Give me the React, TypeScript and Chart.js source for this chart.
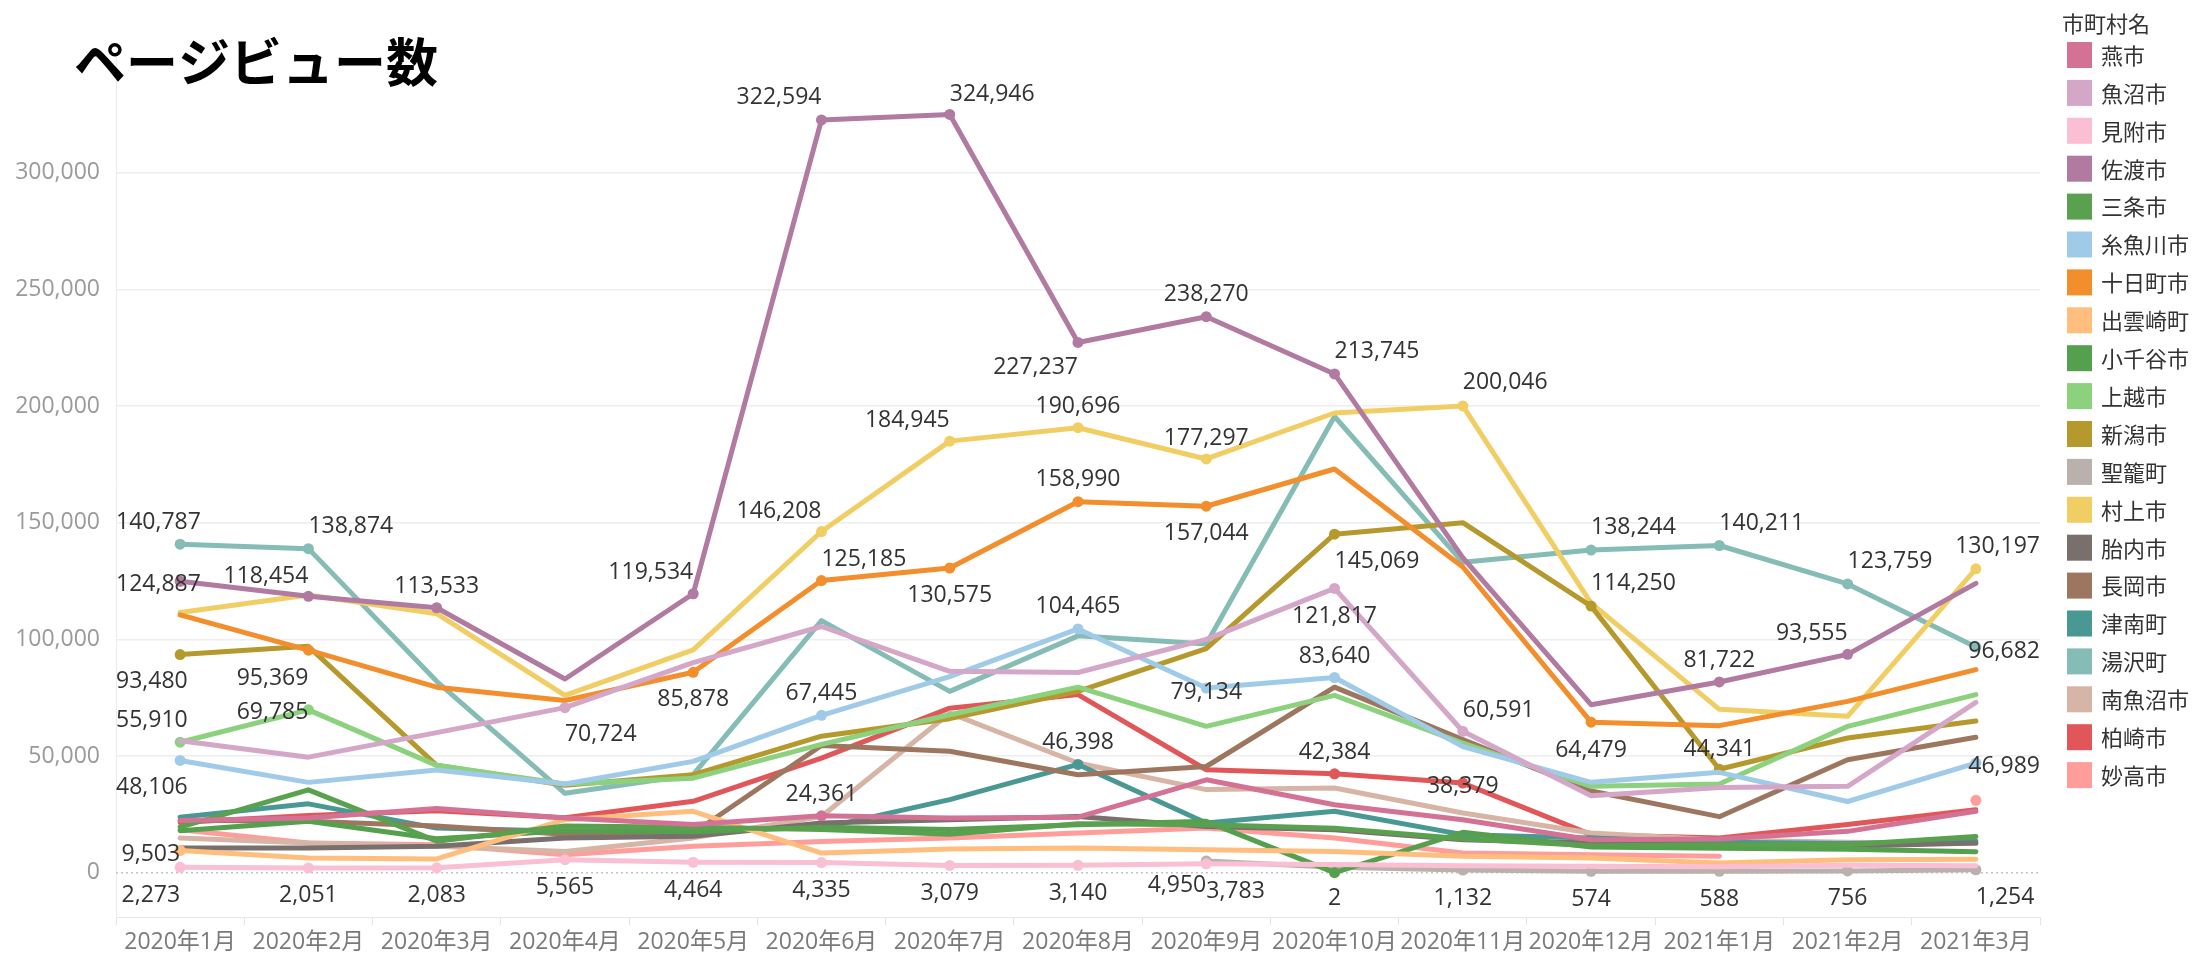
import React, { useEffect, useRef } from 'react';
import { Chart, registerables } from 'chart.js';

Chart.register(...registerables);

const FONT = "'Open Sans', 'Noto Sans CJK JP', sans-serif";
const CJK = "'Noto Sans CJK JP', 'Open Sans', sans-serif";

const months = [
  '2020年1月', '2020年2月', '2020年3月', '2020年4月', '2020年5月', '2020年6月', '2020年7月',
  '2020年8月', '2020年9月', '2020年10月', '2020年11月', '2020年12月', '2021年1月', '2021年2月', '2021年3月',
];

const yTicks = [0, 50000, 100000, 150000, 200000, 250000, 300000];

const tsubame = [22400, 23400, 27500, 23400, 20600, 24361, 23400, 23800, 39800, 29100, 22700, 14100, 14400, 17700, 26300];
const uonuma = [56500, 49500, 60000, 70724, 90000, 105500, 86300, 85800, 100000, 121817, 60591, 33000, 36500, 37000, 73000];
const mitsuke = [2273, 2051, 2083, 5565, 4464, 4335, 3079, 3140, 3783, 3500, 3000, 2800, 2500, 3200, 3000];
const sado = [124887, 118454, 113533, 83000, 119534, 322594, 324946, 227237, 238270, 213745, 135000, 72000, 81722, 93555, 124000];
const sanjo = [19500, 35500, 13500, 20000, 19500, 18500, 16500, 21000, 20500, 19000, 14500, 11500, 12000, 12000, 15500];
const itoigawa = [48106, 38700, 44000, 38000, 47700, 67445, 84000, 104465, 79134, 83640, 54000, 38700, 43000, 30500, 46989];
const tokamachi = [110500, 95369, 79500, 73800, 85878, 125185, 130575, 158990, 157044, 173000, 131000, 64479, 63000, 73400, 87000];
const izumozaki = [9503, 6300, 5900, 22700, 26300, 8400, 10100, 10600, 9800, 9100, 7000, 6300, 4100, 5500, 5800];
const ojiya = [18000, 22000, 14500, 18000, 17500, 19500, 18500, 20500, 22000, 2, 17300, 11000, 10500, 10000, 9000];
const joetsu = [55910, 69785, 46000, 38000, 40500, 55000, 67700, 79500, 62700, 76000, 55500, 37000, 38000, 62700, 76300];
const niigata = [93480, 97000, 46000, 37500, 42000, 58500, 66000, 77700, 96000, 145069, 150000, 114250, 44341, 57700, 65000];
const seiro = [null, null, null, null, null, null, null, null, 4950, 2300, 1132, 574, 588, 756, 1254];
const murakami = [111500, 119000, 111000, 76000, 95500, 146208, 184945, 190696, 177297, 197000, 200046, 115500, 70000, 67000, 130197];
const tainai = [10600, 10600, 11300, 14900, 15600, 21300, 22700, 24100, 19800, 18400, 14100, 12700, 12000, 11300, 12700];
const nagaoka = [22500, 22000, 20000, 16500, 17000, 54500, 52000, 42000, 45500, 79500, 57000, 35000, 24000, 48400, 58000];
const tsunan = [23800, 29500, 19100, 17700, 18400, 19100, 31300, 46398, 21300, 26300, 16300, 14900, 13000, 12500, 13500];
const yuzawa = [140787, 138874, 82000, 34000, 42000, 108000, 77700, 101500, 98000, 195500, 133000, 138244, 140211, 123759, 96682];
const minamiuonuma = [14900, 12700, 11300, 9100, 14900, 24100, 68400, 47000, 35600, 36300, 25600, 17000, 14000, 13000, 12500];
const kashiwazaki = [21500, 24500, 26500, 23500, 30600, 49100, 70500, 76300, 44100, 42384, 38379, 16300, 14900, 20600, 27000];
const myoko = [18400, 12700, 12000, 7700, 11300, 13400, 14900, 17000, 19100, 14900, 8400, 7700, 7000, null, 31000];

const seriesNames = ['燕市', '魚沼市', '見附市', '佐渡市', '三条市', '糸魚川市', '十日町市', '出雲崎町', '小千谷市', '上越市',
  '新潟市', '聖籠町', '村上市', '胎内市', '長岡市', '津南町', '湯沢町', '南魚沼市', '柏崎市', '妙高市'];
const seriesValues: (number | null)[][] = [tsubame, uonuma, mitsuke, sado, sanjo, itoigawa, tokamachi, izumozaki, ojiya, joetsu,
  niigata, seiro, murakami, tainai, nagaoka, tsunan, yuzawa, minamiuonuma, kashiwazaki, myoko];
const seriesColors = ['#D37295', '#D4A6C8', '#FABFD2', '#B07AA1', '#59A14F', '#A0CBE8', '#F28E2B', '#FFBE7D', '#55A04E', '#8CD17D',
  '#B6992D', '#BAB0AC', '#F1CE63', '#79706E', '#9D7660', '#499894', '#86BCB6', '#D7B5A6', '#E15759', '#FF9D9A'];

// [series, month index, horizontal placement, vertical offset]
type Lbl = [string, number, 'l' | 'c' | 'r', number];
const pointLabels: Lbl[] = [
  ['湯沢町', 0, 'l', -22], ['湯沢町', 1, 'r', -22], ['湯沢町', 11, 'r', -23], ['湯沢町', 12, 'r', -22], ['湯沢町', 13, 'r', -22], ['湯沢町', 14, 'r', 4],
  ['佐渡市', 0, 'l', 3], ['佐渡市', 1, 'l', -20], ['佐渡市', 2, 'c', -21], ['佐渡市', 4, 'l', -21], ['佐渡市', 5, 'l', -22], ['佐渡市', 6, 'r', -20],
  ['佐渡市', 7, 'l', 25], ['佐渡市', 8, 'c', -22], ['佐渡市', 9, 'r', -22], ['佐渡市', 12, 'c', -22], ['佐渡市', 13, 'l', -21],
  ['村上市', 5, 'l', -20], ['村上市', 6, 'l', -21], ['村上市', 7, 'c', -21], ['村上市', 8, 'c', -21], ['村上市', 10, 'r', -23], ['村上市', 14, 'r', -22],
  ['十日町市', 1, 'l', 28], ['十日町市', 4, 'c', 27], ['十日町市', 5, 'r', -21], ['十日町市', 6, 'c', 27], ['十日町市', 7, 'c', -22], ['十日町市', 8, 'c', 27], ['十日町市', 11, 'c', 28],
  ['新潟市', 0, 'l', 27], ['新潟市', 9, 'r', 27], ['新潟市', 11, 'r', -23], ['新潟市', 12, 'c', -20],
  ['魚沼市', 3, 'r', 27], ['魚沼市', 9, 'c', 28], ['魚沼市', 10, 'r', -21],
  ['上越市', 0, 'l', -22], ['上越市', 1, 'l', 3],
  ['糸魚川市', 0, 'l', 27], ['糸魚川市', 5, 'c', -22], ['糸魚川市', 7, 'c', -22], ['糸魚川市', 8, 'c', 4], ['糸魚川市', 9, 'c', -21], ['糸魚川市', 14, 'r', 3],
  ['津南町', 7, 'c', -22], ['燕市', 5, 'c', -21], ['柏崎市', 9, 'c', -21], ['柏崎市', 10, 'c', 3], ['出雲崎町', 0, 'l', 4],
  ['見附市', 0, 'l', 28], ['見附市', 1, 'c', 28], ['見附市', 2, 'c', 28], ['見附市', 3, 'c', 28], ['見附市', 4, 'c', 28], ['見附市', 5, 'c', 28],
  ['見附市', 6, 'c', 28], ['見附市', 7, 'c', 28], ['見附市', 8, 'r', 28],
  ['聖籠町', 8, 'l', 24], ['聖籠町', 10, 'c', 28], ['聖籠町', 11, 'c', 28], ['聖籠町', 12, 'c', 28], ['聖籠町', 13, 'c', 28], ['聖籠町', 14, 'r', 28],
  ['小千谷市', 9, 'c', 26],
];

const labeled = new Set(pointLabels.map(([n, m]) => `${seriesNames.indexOf(n)}-${m}`));

const zeroLinePlugin = {
  id: 'zeroLine',
  beforeDatasetsDraw(chart: any) {
    const { ctx, chartArea } = chart;
    const y = chart.scales.y.getPixelForValue(0);
    ctx.save();
    ctx.strokeStyle = '#c4c4c4';
    ctx.lineWidth = 1.5;
    ctx.setLineDash([2, 3]);
    ctx.beginPath();
    ctx.moveTo(chartArea.left, y);
    ctx.lineTo(chartArea.right, y);
    ctx.stroke();
    ctx.restore();
  },
};

const labelPlugin = {
  id: 'valueLabels',
  afterDatasetsDraw(chart: any) {
    const { ctx, chartArea } = chart;
    ctx.save();
    ctx.font = `23px ${FONT}`;
    ctx.fillStyle = '#333333';
    ctx.textBaseline = 'middle';
    ctx.textAlign = 'left';
    for (const [name, mi, h, dy] of pointLabels) {
      const di = seriesNames.indexOf(name);
      const v = seriesValues[di][mi];
      if (v === null) continue;
      const el = chart.getDatasetMeta(di).data[mi];
      const text = v.toLocaleString('en-US');
      const w = ctx.measureText(text).width;
      let x = h === 'l' ? el.x - w : h === 'r' ? el.x : el.x - w / 2;
      x = Math.max(chartArea.left, Math.min(chartArea.right - w, x));
      ctx.fillText(text, x, el.y + dy);
    }
    ctx.restore();
  },
};

const chromePlugin = {
  id: 'chrome',
  afterDraw(chart: any) {
    const { ctx } = chart;
    ctx.save();
    ctx.fillStyle = '#000000';
    ctx.font = `bold 52px ${CJK}`;
    ctx.textBaseline = 'middle';
    ctx.textAlign = 'left';
    ctx.fillText('ページビュー数', 74, 62);

    ctx.fillStyle = '#333333';
    ctx.font = `22px ${CJK}`;
    ctx.fillText('市町村名', 2062, 24);
    seriesNames.forEach((name, i) => {
      const top = 42 + i * 37.9;
      ctx.fillStyle = seriesColors[i];
      ctx.fillRect(2067, top, 25, 26);
      ctx.fillStyle = '#333333';
      ctx.fillText(name, 2101, top + 13.5);
    });
    ctx.restore();
  },
};

export default function App() {
  const ref = useRef<HTMLCanvasElement | null>(null);

  useEffect(() => {
    document.body.style.margin = '0';
    const canvas = ref.current;
    if (!canvas) return;
    const datasets = seriesNames.map((name, di) => {
      const vals = seriesValues[di];
      const radius = vals.map((v, i) => {
        if (v === null) return 0;
        const isolated = (i === 0 || vals[i - 1] === null) && (i === vals.length - 1 || vals[i + 1] === null);
        return labeled.has(`${di}-${i}`) || isolated ? 5.5 : 0;
      });
      return {
        label: name,
        data: vals,
        borderColor: seriesColors[di],
        backgroundColor: seriesColors[di],
        borderWidth: 5,
        tension: 0,
        spanGaps: false,
        pointRadius: radius,
        pointHoverRadius: radius,
        pointBorderWidth: 0,
        borderJoinStyle: 'round' as const,
        borderCapStyle: 'round' as const,
      };
    });

    const chart = new Chart(canvas, {
      type: 'line',
      data: { labels: months, datasets },
      plugins: [zeroLinePlugin, labelPlugin, chromePlugin],
      options: {
        animation: false,
        responsive: false,
        maintainAspectRatio: false,
        layout: { padding: { left: 0, right: 162, top: 56, bottom: 0 } },
        plugins: {
          legend: { display: false },
          title: { display: false },
          tooltip: { enabled: false },
        },
        scales: {
          x: {
            type: 'category',
            offset: true,
            afterFit: (s: any) => { s.height = 40; },
            grid: {
              offset: true,
              drawOnChartArea: false,
              drawTicks: true,
              tickLength: 8,
              tickColor: '#e4e4e4',
              color: '#e4e4e4',
            },
            border: { display: true, color: '#e6e6e6', width: 1 },
            ticks: {
              autoSkip: false,
              maxRotation: 0,
              minRotation: 0,
              padding: 4,
              color: '#7a7a7a',
              font: { family: FONT, size: 23 },
            },
          },
          y: {
            min: -19000,
            max: 350000,
            afterFit: (s: any) => { s.width = 116; },
            afterBuildTicks: (s: any) => { s.ticks = yTicks.map((v) => ({ value: v })); },
            grid: {
              drawTicks: false,
              lineWidth: 1.5,
              color: (c: any) => (c.tick && c.tick.value === 0 ? 'rgba(0,0,0,0)' : '#eeeeee'),
            },
            border: { display: true, color: '#ebebeb', width: 1 },
            ticks: {
              padding: 16,
              color: '#9a9a9a',
              font: { family: FONT, size: 23 },
              callback: (v: any) => Number(v).toLocaleString('en-US'),
            },
          },
        },
      },
    });
    return () => chart.destroy();
  }, []);

  return (
    <div style={{ position: 'absolute', left: 0, top: 0, width: 2202, height: 957, background: '#ffffff' }}>
      <canvas ref={ref} width={2202} height={957} style={{ width: 2202, height: 957, display: 'block' }} />
    </div>
  );
}
